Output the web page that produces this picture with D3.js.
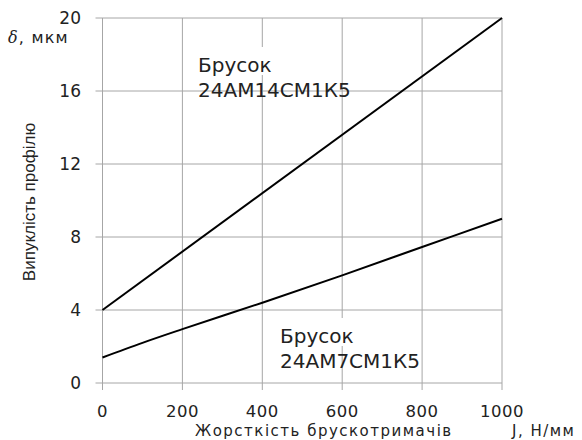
<!DOCTYPE html>
<html>
<head>
<meta charset="utf-8">
<script src="https://cdn.jsdelivr.net/npm/d3@7"></script>
<style>
body { margin: 0; background: #fff; }
svg { font-family: "DejaVu Sans", sans-serif; }
</style>
</head>
<body>
<div id="chart"></div>
<script>
var w = 582;
var h = 440;

var xTicks = [0, 200, 400, 600, 800, 1000];
var yTicks = [0, 4, 8, 12, 16, 20];

// Брусок 24АМ14СМ1К5
var xUpper = [0, 1000];
var yUpper = [4, 20];

// Брусок 24АМ7СМ1К5
var xLower = [0, 100, 200, 400, 600, 800, 1000];
var yLower = [1.4, 2.2, 2.95, 4.4, 5.9, 7.45, 9];

var xScale = d3.scaleLinear()
    .domain([0, 1000])
    .range([102.5, 502]);

var yScale = d3.scaleLinear()
    .domain([0, 20])
    .range([383, 18]);

var svg = d3.select("#chart")
    .append("svg")
    .attr("width", w)
    .attr("height", h);

// grid (tick marks stick out past the frame)
svg.selectAll("line.gx")
    .data(xTicks)
    .enter()
    .append("line")
    .attr("class", "gx")
    .attr("x1", function(d) { return xScale(d); })
    .attr("x2", function(d) { return xScale(d); })
    .attr("y1", yScale(20))
    .attr("y2", yScale(0) + 7)
    .attr("stroke", "#a6a6a6")
    .attr("stroke-width", 1);

svg.selectAll("line.gy")
    .data(yTicks)
    .enter()
    .append("line")
    .attr("class", "gy")
    .attr("x1", xScale(0) - 7)
    .attr("x2", xScale(1000))
    .attr("y1", function(d) { return yScale(d); })
    .attr("y2", function(d) { return yScale(d); })
    .attr("stroke", "#a6a6a6")
    .attr("stroke-width", 1);

// tick labels
svg.selectAll("text.tx")
    .data(xTicks)
    .enter()
    .append("text")
    .attr("class", "tx")
    .attr("x", function(d) { return xScale(d); })
    .attr("y", 417)
    .attr("text-anchor", "middle")
    .attr("font-size", 16.5)
    .attr("letter-spacing", 0.5)
    .attr("fill", "#222")
    .text(function(d) { return d; });

svg.selectAll("text.ty")
    .data(yTicks)
    .enter()
    .append("text")
    .attr("class", "ty")
    .attr("x", 81)
    .attr("y", function(d) { return yScale(d) + 6; })
    .attr("text-anchor", "end")
    .attr("font-size", 17)
    .attr("fill", "#222")
    .text(function(d) { return d; });

// series
var line = d3.line()
    .x(function(d) { return xScale(d[0]); })
    .y(function(d) { return yScale(d[1]); })
    .curve(d3.curveMonotoneX);

svg.append("path")
    .datum(d3.zip(xUpper, yUpper))
    .attr("d", line)
    .attr("fill", "none")
    .attr("stroke", "#000")
    .attr("stroke-width", 2);

svg.append("path")
    .datum(d3.zip(xLower, yLower))
    .attr("d", line)
    .attr("fill", "none")
    .attr("stroke", "#000")
    .attr("stroke-width", 2);

// labels: first line sits on a white box that hides the grid behind it
function label(x, y, t1, t2) {
    svg.append("rect")
        .attr("x", x - 2)
        .attr("y", y - 25)
        .attr("width", 78)
        .attr("height", 28)
        .attr("fill", "#fff");
    svg.append("text")
        .attr("x", x)
        .attr("y", y)
        .attr("font-size", 20)
        .attr("fill", "#222")
        .text(t1);
    svg.append("text")
        .attr("x", x)
        .attr("y", y + 25)
        .attr("font-size", 20)
        .attr("fill", "#222")
        .text(t2);
}
label(198, 72, "Брусок", "24АМ14СМ1К5");
label(280, 343, "Брусок", "24АМ7СМ1К5");

// axis titles
var dl = svg.append("text")
    .attr("x", 8)
    .attr("y", 43)
    .attr("font-size", 16)
    .attr("letter-spacing", 1.2)
    .attr("fill", "#222");
dl.append("tspan").attr("font-style", "italic").attr("font-family", "DejaVu Serif").text("δ");
dl.append("tspan").text(", мкм");

svg.append("text")
    .attr("transform", "translate(35,202) rotate(-90)")
    .attr("text-anchor", "middle")
    .attr("font-family", "Liberation Sans")
    .attr("font-size", 17)
    .attr("fill", "#222")
    .text("Випуклість профілю");

svg.append("text")
    .attr("x", 195)
    .attr("y", 436)
    .attr("font-size", 15)
    .attr("letter-spacing", 1.5)
    .attr("fill", "#222")
    .text("Жорсткість брускотримачів");

svg.append("text")
    .attr("x", 512)
    .attr("y", 436)
    .attr("font-size", 15)
    .attr("letter-spacing", 1.5)
    .attr("fill", "#222")
    .text("J, Н/мм");
</script>
</body>
</html>
